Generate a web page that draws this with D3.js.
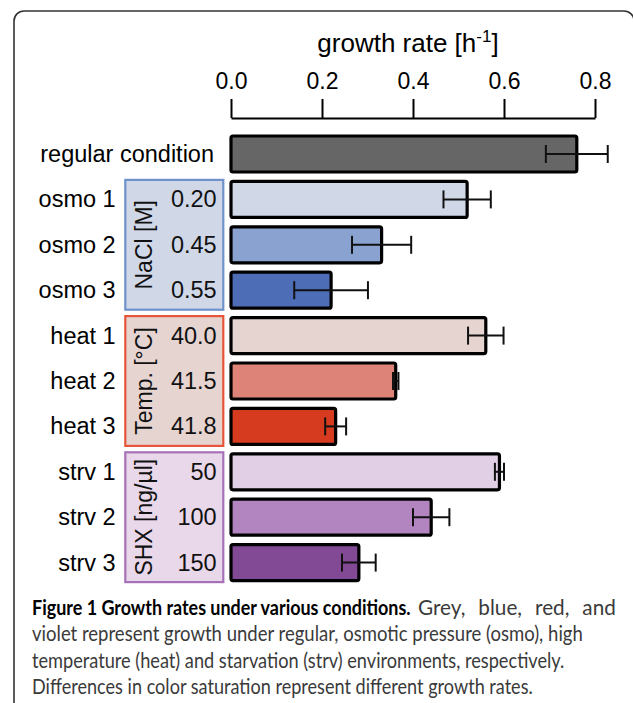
<!DOCTYPE html>
<html><head><meta charset="utf-8">
<script src="https://cdn.jsdelivr.net/npm/d3@7"></script>
<style>
html,body{margin:0;padding:0;background:#fff;}
svg{display:block;}
</style></head>
<body>
<svg id="chart" width="633" height="703"></svg>
<script>
// ---- data ----
const categories = ["regular condition","osmo 1","osmo 2","osmo 3","heat 1","heat 2","heat 3","strv 1","strv 2","strv 3"];
const growthRates = [0.76, 0.519, 0.331, 0.22, 0.56, 0.362, 0.23, 0.59, 0.44, 0.281];
const errors      = [0.068, 0.052, 0.065, 0.081, 0.039, 0.006, 0.023, 0.01, 0.04, 0.037];
const barColors   = ["#666666","#d0d8e8","#8aa2d0","#4e6db7","#e6d4d1","#de8377","#d63b20","#e1d0e5","#b385c0","#824a95"];
const doses       = ["","0.20","0.45","0.55","40.0","41.5","41.8","50","100","150"];
const groupNames  = ["NaCl [M]","Temp. [°C]","SHX [ng/µl]"];
const groupFirst  = ["osmo 1","heat 1","strv 1"];
const groupLast   = ["osmo 3","heat 3","strv 3"];
const groupFill   = ["#d0d8e8","#e6d4d1","#e8d8ea"];
const groupStroke = ["#6f92cb","#e6553a","#a671b7"];
const tickValues  = [0, 0.2, 0.4, 0.6, 0.8];
const captionBold = "Figure 1 Growth rates under various conditions.";
const captionLines = [
  "Grey, blue, red, and",
  "violet represent growth under regular, osmotic pressure (osmo), high",
  "temperature (heat) and starvation (strv) environments, respectively.",
  "Differences in color saturation represent different growth rates."
];

const svg = d3.select("#chart");
const font = "'Liberation Sans', Arial, sans-serif";

// frame
svg.append("rect").attr("x",14).attr("y",11).attr("width",620).attr("height",720)
  .attr("rx",10).attr("fill","none").attr("stroke","#333").attr("stroke-width",1.6);

const x = d3.scaleLinear().domain([0,0.8]).range([231,595]);
const y = d3.scaleBand().domain(categories).range([131.3,585.3]).paddingInner(0.207).paddingOuter(0.1035);

// axis
const axis = d3.axisTop(x).tickValues(tickValues).tickFormat(d3.format(".1f"))
  .tickSize(19).tickSizeOuter(0).tickPadding(10);
const gAxis = svg.append("g").attr("transform","translate(0,118)").call(axis);
gAxis.select(".domain").attr("stroke","#000").attr("stroke-width",2);
gAxis.selectAll(".tick line").attr("stroke","#000").attr("stroke-width",2);
gAxis.selectAll(".tick text").attr("fill","#000").style("font-family",font).style("font-size","23px");

// title
const title = svg.append("text").attr("x",408).attr("y",52).attr("text-anchor","middle")
  .style("font-family",font).style("font-size","26px").attr("fill","#000");
title.append("tspan").text("growth rate [h");
title.append("tspan").attr("dy",-10).style("font-size","17px").text("-1");
title.append("tspan").attr("dy",10).text("]");

// group boxes
groupNames.forEach((g,i)=>{
  const y0 = y(groupFirst[i]) - 1.5, y1 = y(groupLast[i]) + y.bandwidth() + 1.5;
  svg.append("rect").attr("x",125.3).attr("y",y0).attr("width",98).attr("height",y1-y0)
    .attr("fill",groupFill[i]).attr("stroke",groupStroke[i]).attr("stroke-width",2.2);
  svg.append("text").attr("transform",`translate(152,${(y0+y1)/2}) rotate(-90)`)
    .attr("text-anchor","middle").style("font-family",font).style("font-size","23px")
    .attr("fill","#111").text(g);
});

// row labels
svg.selectAll("text.cat").data(categories).join("text").attr("class","cat")
  .attr("x",(d,i)=> i===0 ? 214 : 115.7)
  .attr("y",d=>y(d)+y.bandwidth()/2+8)
  .attr("text-anchor","end").style("font-family",font).style("font-size","23.5px")
  .attr("fill","#000").text(d=>d);

// doses
svg.selectAll("text.dose").data(categories).join("text").attr("class","dose")
  .attr("x",216.7).attr("y",d=>y(d)+y.bandwidth()/2+8)
  .attr("text-anchor","end").style("font-family",font).style("font-size","23.5px")
  .attr("fill","#111").text((d,i)=>doses[i]);

// bars
svg.selectAll("rect.bar").data(categories).join("rect").attr("class","bar")
  .attr("x",x(0)).attr("y",d=>y(d))
  .attr("width",(d,i)=>x(growthRates[i])-x(0)).attr("height",y.bandwidth())
  .attr("rx",2).attr("fill",(d,i)=>barColors[i]).attr("stroke","#000").attr("stroke-width",3.2);

// error bars
const eb = svg.selectAll("g.err").data(categories).join("g").attr("class","err")
  .attr("stroke","#111").attr("stroke-width",2);
eb.append("line").attr("x1",(d,i)=>x(growthRates[i]-errors[i])).attr("x2",(d,i)=>x(growthRates[i]+errors[i]))
  .attr("y1",d=>y(d)+y.bandwidth()/2).attr("y2",d=>y(d)+y.bandwidth()/2);
[-1,1].forEach(s=>{
  eb.append("line").attr("x1",(d,i)=>x(growthRates[i]+s*errors[i])).attr("x2",(d,i)=>x(growthRates[i]+s*errors[i]))
    .attr("y1",d=>y(d)+y.bandwidth()/2-9).attr("y2",d=>y(d)+y.bandwidth()/2+9);
});

// caption: condensed look via horizontal scaling
const capFont = "Lato, 'Open Sans', sans-serif";
const capSize = 21, capY0 = 615, capStep = 26.5, capLeft = 32;
function measure(t, w){
  const p = svg.append("text").style("font-family",capFont).style("font-size",capSize+"px")
    .attr("font-weight",w).text(t);
  const l = p.node().getComputedTextLength(); p.remove(); return l;
}
const sx  = 551 / measure(captionLines[1], "normal");
const sxb = 379 / measure(captionBold, "bold");
svg.append("g").attr("transform",`translate(${capLeft},0) scale(${sxb},1)`)
  .append("text").attr("x",0).attr("y",capY0)
  .style("font-family",capFont).style("font-size",capSize+"px").attr("font-weight","bold").attr("fill","#000")
  .text(captionBold);
const lineLeft = [418, capLeft, capLeft, capLeft];
const lineWidth = [198, 551, 533, 501];
captionLines.forEach((t,i)=>{
  const natural = measure(t, "normal");
  const s = i===0 ? sx*1.12 : lineWidth[i]/natural;
  const tx = svg.append("g").attr("transform",`translate(${lineLeft[i]},0) scale(${s},1)`)
    .append("text").attr("x",0).attr("y",capY0+i*capStep)
    .style("font-family",capFont).style("font-size",capSize+"px").attr("fill","#3a3a3a").text(t);
  if(i===0){
    const spaces = t.split(" ").length - 1;
    const extra = Math.max(0, (lineWidth[0]/s - natural)/spaces);
    tx.attr("word-spacing", extra.toFixed(2));
  }
});
</script>
</body></html>
